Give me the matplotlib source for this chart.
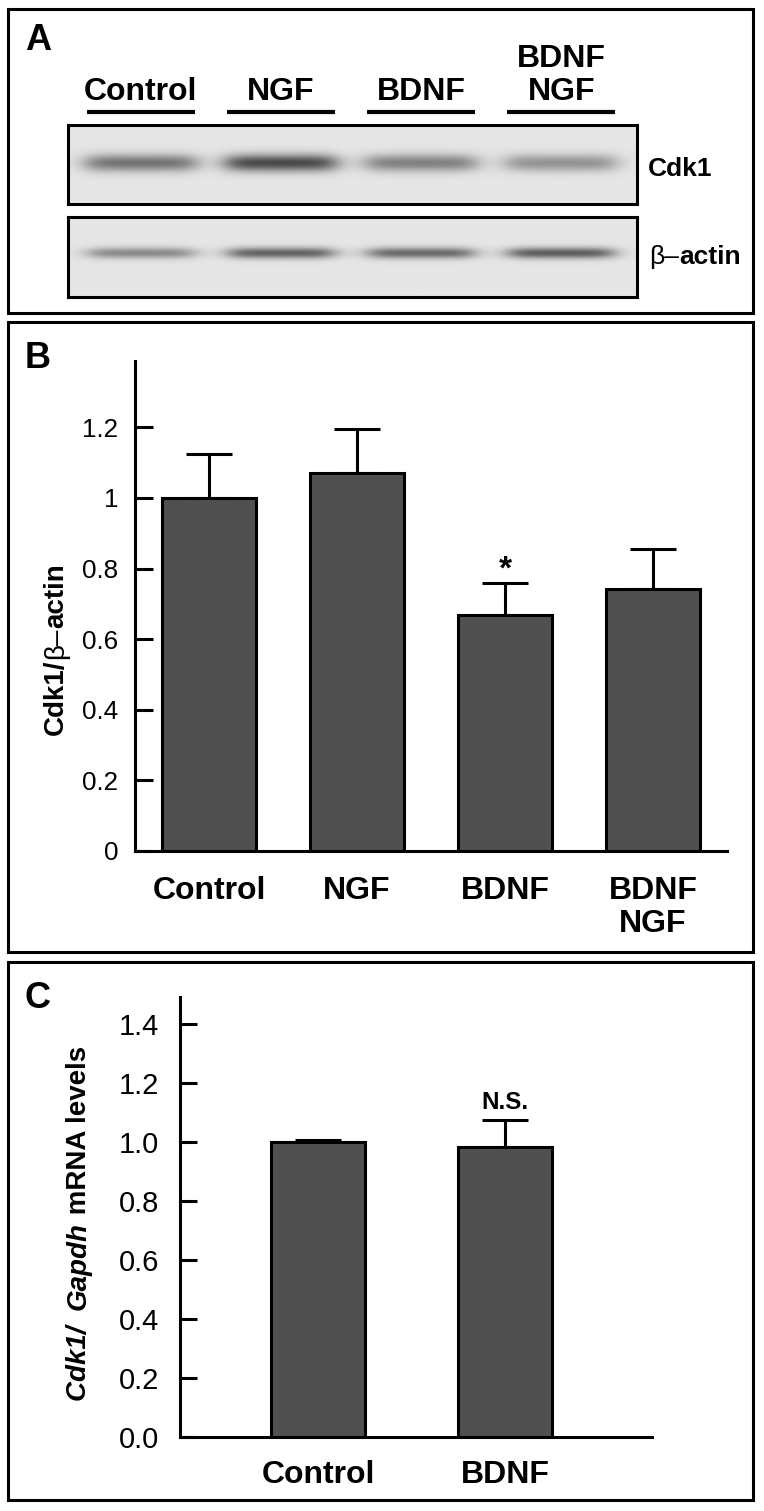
import matplotlib
matplotlib.use("Agg")
import matplotlib.pyplot as plt
from matplotlib.patches import Rectangle
import numpy as np

plt.rcParams['font.family'] = ['Liberation Sans', 'DejaVu Sans']

# ---- data ----
lanes = ["Control", "NGF", "BDNF", "BDNF\nNGF"]
cdk1_band = [0.62, 0.85, 0.55, 0.45]     # relative band darkness on the blot
actin_band = [0.50, 0.72, 0.68, 0.75]

b_groups = ["Control", "NGF", "BDNF", "BDNF\nNGF"]
b_mean = [1.0, 1.071, 0.669, 0.742]
b_err = [0.125, 0.124, 0.090, 0.114]
b_yticks = [0, 0.2, 0.4, 0.6, 0.8, 1.0, 1.2]
b_yticklabels = ["0", "0.2", "0.4", "0.6", "0.8", "1", "1.2"]

c_groups = ["Control", "BDNF"]
c_mean = [1.0, 0.983]
c_err = [0.006, 0.092]
c_yticks = [0.0, 0.2, 0.4, 0.6, 0.8, 1.0, 1.2, 1.4]

W, H = 764, 1511
BAR = '#505050'
LW = 2.2


def fx(x):
    return x / W


def fy(y):
    return 1 - y / H


def box(x0, y0, x1, y1):
    fig.add_artist(Rectangle((fx(x0), fy(y1)), fx(x1) - fx(x0), fy(y0) - fy(y1),
                             transform=fig.transFigure, fill=False, lw=LW, ec='black'))


def mixed_text(x, y, pieces, rotation=0):
    # pieces of text with different styles, laid out along one baseline
    r = fig.canvas.get_renderer()
    widths = []
    for s, kw in pieces:
        t = fig.text(0, 0, s, **kw)
        widths.append(t.get_window_extent(r).width)
        t.remove()
    if rotation == 90:
        pos = (H - y) - sum(widths) / 2
        for (s, kw), w in zip(pieces, widths):
            fig.text(fx(x), pos / H, s, rotation=90, rotation_mode='anchor',
                     ha='left', va='baseline', **kw)
            pos += w
    else:
        pos = x
        for (s, kw), w in zip(pieces, widths):
            fig.text(pos / W, fy(y), s, ha='left', va='baseline', **kw)
            pos += w


fig = plt.figure(figsize=(W / 100, H / 100), dpi=100)

# ---- panel frames ----
box(8, 9, 753, 313)
box(8, 322, 753, 952)
box(8, 962, 753, 1500)
fig.text(fx(25), fy(41), "A", fontsize=26, fontweight='bold', va='center')
fig.text(fx(25), fy(358), "B", fontsize=26, fontweight='bold', va='center')
fig.text(fx(25), fy(998), "C", fontsize=26, fontweight='bold', va='center')

# ---- panel A: lane labels and blots ----
xl = (-0.52, 3.54)
lab_ax = fig.add_axes([fx(68), fy(120), fx(637) - fx(68), fy(30) - fy(120)])
lab_ax.set_xlim(xl)
lab_ax.set_ylim(120, 30)
lab_ax.axis('off')
for i, name in enumerate(lanes):
    lab_ax.text(i, 100, name, ha='center', va='baseline', fontsize=23,
                fontweight='bold', linespacing=1.15)
    lab_ax.plot([i - 0.385, i + 0.385], [112, 112], color='black', lw=3,
                solid_capstyle='butt')


def blot(y0, y1, bands, yc, sy, half):
    ax = fig.add_axes([fx(68), fy(y1), fx(637) - fx(68), fy(y0) - fy(y1)])
    xs = np.linspace(xl[0], xl[1], 700)
    ys = np.linspace(1, 0, 100)
    X, Y = np.meshgrid(xs, ys)
    dark = np.zeros_like(X)
    for i, v in enumerate(bands):
        gx = 1 / (1 + np.exp(-(half - np.abs(X - i)) / 0.05))
        gy = np.exp(-((Y - yc) / sy) ** 2)
        dark += v * gx * gy
    img = 0.9 - dark * 0.72
    ax.imshow(img, cmap='gray', vmin=0, vmax=1, aspect='auto',
              extent=(xl[0], xl[1], 0, 1), interpolation='bilinear')
    ax.set_xticks([])
    ax.set_yticks([])
    for s in ax.spines.values():
        s.set_linewidth(LW)


blot(125, 204, cdk1_band, 0.52, 0.11, 0.39)
blot(217, 297, actin_band, 0.55, 0.07, 0.37)
fig.text(fx(648), fy(176), "Cdk1", fontsize=19, fontweight='bold', va='baseline')
mixed_text(649, 264, [("\u03b2\u2013", dict(fontsize=19)),
                      ("actin", dict(fontsize=19, fontweight='bold'))])


def style(ax, pad_y, pad_x, ticklen, tsize):
    for s in ['top', 'right']:
        ax.spines[s].set_visible(False)
    for s in ['left', 'bottom']:
        ax.spines[s].set_linewidth(LW)
    ax.tick_params(axis='y', direction='in', length=ticklen, width=LW,
                   labelsize=tsize, pad=pad_y)
    ax.tick_params(axis='x', length=0, pad=pad_x, labelsize=23)
    for t in ax.get_xticklabels():
        t.set_fontweight('bold')
        t.set_linespacing(1.15)


# ---- panel B ----
axB = fig.add_axes([fx(135), fy(851), fx(727) - fx(135), fy(361) - fy(851)])
xb = np.arange(len(b_groups))
axB.bar(xb, b_mean, width=0.635, color=BAR, edgecolor='black', lw=LW, zorder=3)
axB.errorbar(xb, b_mean, yerr=[np.zeros(len(b_err)), b_err], fmt='none',
             ecolor='black', elinewidth=LW, capsize=16.5, capthick=LW, zorder=2)
axB.set_xlim(-0.5, 3.5)
axB.set_ylim(0, 1.388)
axB.set_yticks(b_yticks)
axB.set_yticklabels(b_yticklabels)
axB.set_xticks(xb)
axB.set_xticklabels(b_groups, va='top')
style(axB, 12, 18, 13, 18.7)
axB.annotate("*", (2, b_mean[2] + b_err[2]), xytext=(0, -2), textcoords='offset points',
             ha='center', va='bottom', fontsize=24, fontweight='bold')
mixed_text(63, 649, [("Cdk1/", dict(fontsize=20, fontweight='bold')),
                     ("\u03b2\u2013", dict(fontsize=20)),
                     ("actin", dict(fontsize=20, fontweight='bold'))], rotation=90)

# ---- panel C ----
axC = fig.add_axes([fx(180), fy(1437), fx(652) - fx(180), fy(997) - fy(1437)])
xc = np.arange(len(c_groups))
axC.bar(xc, c_mean, width=0.503, color=BAR, edgecolor='black', lw=LW, zorder=3)
axC.errorbar(xc, c_mean, yerr=[np.zeros(len(c_err)), c_err], fmt='none',
             ecolor='black', elinewidth=LW, capsize=16.5, capthick=LW, zorder=2)
axC.set_xlim(-0.738, 1.786)
axC.set_ylim(0, 1.49)
axC.set_yticks(c_yticks)
axC.set_yticklabels(["%.1f" % v for v in c_yticks])
axC.set_xticks(xc)
axC.set_xticklabels(c_groups)
style(axC, 15, 16.5, 12, 21)
axC.annotate("N.S.", (1, c_mean[1] + c_err[1]), xytext=(0, 4), textcoords='offset points',
             ha='center', va='bottom', fontsize=17.4, fontweight='bold')
mixed_text(86, 1223, [("Cdk1/  ", dict(fontsize=20, fontweight='bold', fontstyle='italic')),
                      ("Gapdh", dict(fontsize=20, fontweight='bold', fontstyle='italic')),
                      (" mRNA levels", dict(fontsize=20, fontweight='bold'))], rotation=90)

fig.savefig("out.png", dpi=100)
